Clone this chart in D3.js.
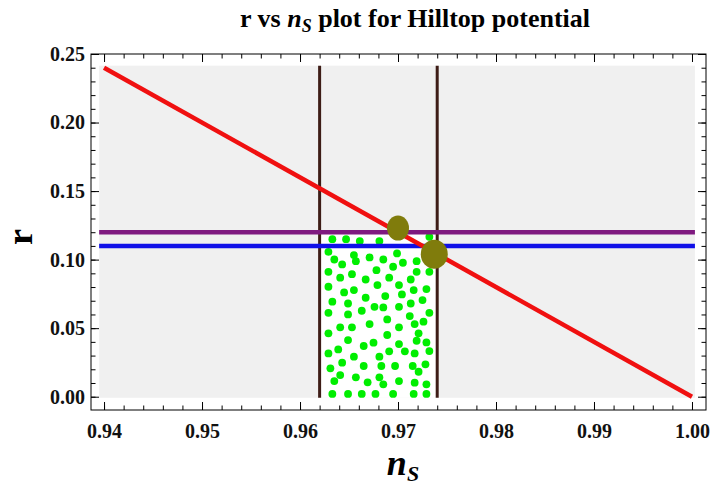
<!DOCTYPE html>
<html>
<head>
<meta charset="utf-8">
<script src="https://cdn.jsdelivr.net/npm/d3@7"></script>
<style>
  body { margin: 0; background: #fff; }
  text { font-family: "Liberation Serif", "Times New Roman", serif; font-weight: bold; }
</style>
</head>
<body>
<div id="chart"></div>
<script>
// ticks
var xTicks = [0.94, 0.95, 0.96, 0.97, 0.98, 0.99, 1.00];
var yTicks = [0.00, 0.05, 0.10, 0.15, 0.20, 0.25];

// hilltop prediction line r(ns)
var redNs = [0.94, 1.00];
var redR = [0.24, 0.00];

// observational bounds
var purpleR = 0.12;
var blueR = 0.11;
var brownNs = [0.962, 0.974];

// highlighted points
var bigNs = [0.9700, 0.9737];
var bigR = [0.123, 0.104];

// allowed-region points
var greenNs = [0.9633, 0.9647, 0.9661, 0.9681, 0.9732, 0.9629, 0.9635, 0.9643, 0.9655, 0.9657,
  0.9671, 0.9685, 0.9695, 0.9699, 0.9705, 0.9719, 0.9629, 0.9641, 0.9653, 0.9667,
  0.9678, 0.9679, 0.9691, 0.9701, 0.9713, 0.9719, 0.9732, 0.9629, 0.9645, 0.9655,
  0.9667, 0.9687, 0.9704, 0.9716, 0.9729, 0.9633, 0.9649, 0.9663, 0.9676, 0.9685,
  0.9701, 0.9713, 0.9725, 0.9629, 0.9649, 0.9689, 0.9712, 0.9717, 0.9726, 0.9732,
  0.9671, 0.9641, 0.9653, 0.9701, 0.9629, 0.9721, 0.9649, 0.9665, 0.9675, 0.9689,
  0.9701, 0.9719, 0.9729, 0.9629, 0.9639, 0.9655, 0.9681, 0.9691, 0.9707, 0.9717,
  0.9732, 0.9631, 0.9643, 0.9665, 0.9683, 0.9697, 0.9715, 0.9728, 0.9721, 0.9635,
  0.9641, 0.9657, 0.9669, 0.9681, 0.9685, 0.9701, 0.9717, 0.9729, 0.9633, 0.9649,
  0.9663, 0.9677, 0.9695, 0.9716, 0.9729];
var greenR = [0.1149, 0.1149, 0.1135, 0.1135, 0.1166, 0.1057, 0.1001, 0.0965, 0.1033, 0.0989,
  0.1016, 0.1001, 0.0948, 0.1045, 0.0977, 0.0989, 0.0911, 0.0868, 0.0894, 0.0855,
  0.0923, 0.0814, 0.0868, 0.0814, 0.0855, 0.0911, 0.0911, 0.0802, 0.0761, 0.0778,
  0.0722, 0.0734, 0.0746, 0.0778, 0.0785, 0.0693, 0.0680, 0.0627, 0.0656, 0.0651,
  0.0656, 0.0680, 0.0705, 0.0612, 0.0600, 0.0564, 0.0588, 0.0530, 0.0547, 0.0612,
  0.0530, 0.0506, 0.0506, 0.0506, 0.0462, 0.0462, 0.0413, 0.0370, 0.0394, 0.0450,
  0.0384, 0.0408, 0.0396, 0.0316, 0.0345, 0.0292, 0.0292, 0.0331, 0.0331, 0.0316,
  0.0333, 0.0207, 0.0248, 0.0224, 0.0224, 0.0224, 0.0224, 0.0236, 0.0182, 0.0114,
  0.0158, 0.0141, 0.0105, 0.0141, 0.0090, 0.0114, 0.0102, 0.0090, 0.0020, 0.0020,
  0.0020, 0.0020, 0.0020, 0.0020, 0.0020];

var width = 711, height = 489;
var frame = { left: 91, right: 706, top: 54, bottom: 410 };

var x = d3.scaleLinear()
    .domain([0.93867, 1.00143])
    .range([frame.left, frame.right]);

var y = d3.scaleLinear()
    .domain([-0.0097, 0.25])
    .range([frame.bottom, frame.top]);

var svg = d3.select('#chart')
    .append('svg')
    .attr('width', width)
    .attr('height', height);

// shaded panel and the white allowed box
var panel = { x0: 0.9395, x1: 1.0003, y0: -0.0008, y1: 0.2415 };

svg.append('rect')
    .attr('x', x(panel.x0))
    .attr('y', y(panel.y1))
    .attr('width', x(panel.x1) - x(panel.x0))
    .attr('height', y(panel.y0) - y(panel.y1))
    .attr('fill', '#f0f0f0');

svg.append('rect')
    .attr('x', x(brownNs[0]))
    .attr('y', y(purpleR))
    .attr('width', x(brownNs[1]) - x(brownNs[0]))
    .attr('height', y(panel.y0) - y(purpleR))
    .attr('fill', '#fff');

// green points
svg.append('g').selectAll('circle')
    .data(greenNs)
    .enter().append('circle')
    .attr('cx', function(d) { return x(d); })
    .attr('cy', function(d, i) { return y(greenR[i]); })
    .attr('r', 3.9)
    .attr('fill', '#00ee00');

// vertical ns bounds
svg.append('g').selectAll('line')
    .data(brownNs)
    .enter().append('line')
    .attr('x1', function(d) { return x(d); })
    .attr('x2', function(d) { return x(d); })
    .attr('y1', y(panel.y0))
    .attr('y2', y(panel.y1))
    .attr('stroke', '#3d1c16')
    .attr('stroke-width', 3);

// horizontal r bounds
[[purpleR, '#7f1a80'], [blueR, '#1010e8']].forEach(function(h) {
  svg.append('line')
      .attr('x1', x(panel.x0))
      .attr('x2', x(panel.x1))
      .attr('y1', y(h[0]))
      .attr('y2', y(h[0]))
      .attr('stroke', h[1])
      .attr('stroke-width', 4.5);
});

// model line
var line = d3.line()
    .x(function(d) { return x(d); })
    .y(function(d, i) { return y(redR[i]); });

svg.append('path')
    .attr('d', line(redNs))
    .attr('fill', 'none')
    .attr('stroke', '#f01010')
    .attr('stroke-width', 4.5);

// big olive points
svg.append('g').selectAll('ellipse')
    .data(bigNs)
    .enter().append('ellipse')
    .attr('cx', function(d) { return x(d); })
    .attr('cy', function(d, i) { return y(bigR[i]); })
    .attr('rx', function(d, i) { return i == 0 ? 11 : 13.5; })
    .attr('ry', function(d, i) { return i == 0 ? 12.5 : 14.5; })
    .attr('fill', '#807c0c');

// frame
svg.append('rect')
    .attr('x', frame.left)
    .attr('y', frame.top)
    .attr('width', frame.right - frame.left)
    .attr('height', frame.bottom - frame.top)
    .attr('fill', 'none')
    .attr('stroke', '#000')
    .attr('stroke-width', 1);

var xMinor = d3.range(0, 31).map(function(i) { return 0.94 + i * 0.002; });
var yMinor = d3.range(0, 26).map(function(i) { return i * 0.01; });

function ticks(axis, values, size, transform, labels) {
  var g = svg.append('g')
      .attr('transform', transform)
      .call(axis.tickValues(values).tickSize(-size).tickPadding(10)
        .tickFormat(labels ? d3.format('.2f') : ''));
  g.select('.domain').remove();
  g.selectAll('.tick line').attr('stroke', '#000');
  g.selectAll('text')
      .attr('font-size', 20)
      .attr('fill', '#111');
  return g;
}

ticks(d3.axisBottom(x), xMinor, 4.5, 'translate(0,' + frame.bottom + ')', false);
ticks(d3.axisBottom(x), xTicks, 8, 'translate(0,' + frame.bottom + ')', true)
    .selectAll('text').attr('dy', '0.9em');
ticks(d3.axisTop(x), xMinor, 4.5, 'translate(0,' + frame.top + ')', false);
ticks(d3.axisTop(x), xTicks, 8, 'translate(0,' + frame.top + ')', false);
ticks(d3.axisLeft(y), yMinor, 4.5, 'translate(' + frame.left + ',0)', false);
ticks(d3.axisLeft(y), yTicks, 8, 'translate(' + frame.left + ',0)', true)
    .selectAll('text').attr('x', -6);
ticks(d3.axisRight(y), yMinor, 4.5, 'translate(' + frame.right + ',0)', false);
ticks(d3.axisRight(y), yTicks, 8, 'translate(' + frame.right + ',0)', false);

// title
var title = svg.append('text')
    .attr('x', 415)
    .attr('y', 27)
    .attr('text-anchor', 'middle')
    .attr('font-size', 26);
title.append('tspan').text('r vs ');
title.append('tspan').attr('font-style', 'italic').text('n');
title.append('tspan').attr('font-style', 'italic').attr('font-size', 18)
    .attr('dy', 5).text('S');
title.append('tspan').attr('dy', -5).text(' plot for Hilltop potential');

// axis labels
svg.append('text')
    .attr('transform', 'translate(32,237) rotate(-90)')
    .attr('text-anchor', 'middle')
    .attr('font-size', 36)
    .text('r');

var xlab = svg.append('text')
    .attr('x', 403)
    .attr('y', 475)
    .attr('text-anchor', 'middle')
    .attr('font-size', 36)
    .attr('font-style', 'italic');
xlab.append('tspan').text('n');
xlab.append('tspan').attr('font-size', 22).attr('dy', 6).text('S');
</script>
</body>
</html>
